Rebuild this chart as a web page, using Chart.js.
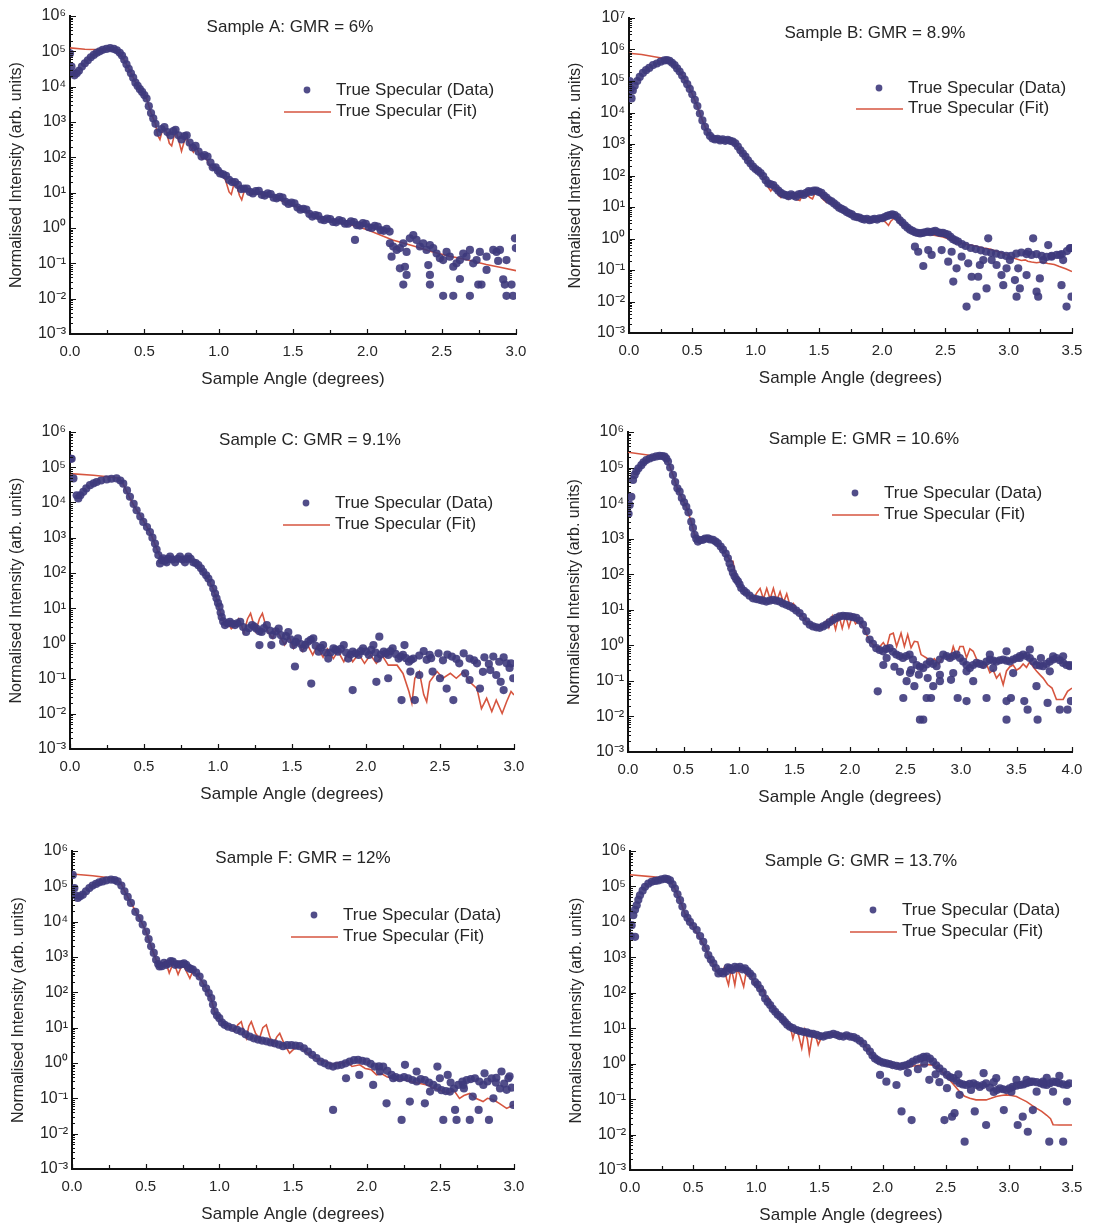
<!DOCTYPE html>
<html>
<head>
<meta charset="utf-8">
<title>True specular reflectivity, samples A-G</title>
<script src="https://cdn.jsdelivr.net/npm/chart.js@4.4.0/dist/chart.umd.min.js"></script>
<style>
  html, body { margin: 0; padding: 0; background: #fff; }
  body { width: 1094px; height: 1227px; position: relative; overflow: hidden; }
  canvas { position: absolute; }
</style>
</head>
<body>
<canvas id="cA"></canvas>
<canvas id="cB"></canvas>
<canvas id="cC"></canvas>
<canvas id="cE"></canvas>
<canvas id="cF"></canvas>
<canvas id="cG"></canvas>
<script>
// ---------- Sample A: GMR = 6% ----------
const titleA = 'Sample A: GMR = 6%';
const xTicksA = [0, 0.5, 1.0, 1.5, 2.0, 2.5, 3.0];
const decadesA = [-3, -2, -1, 0, 1, 2, 3, 4, 5, 6];
const dataA = [
  [0.00,8.7e4],[0.01,3.7e4],[0.02,2.4e4],[0.03,2.1e4],[0.045,2.4e4],[0.06,2.8e4],[0.08,3.7e4],[0.10,4.6e4],
  [0.12,5.6e4],[0.14,6.8e4],[0.16,7.9e4],[0.18,9.1e4],[0.20,1.0e5],[0.22,1.1e5],[0.245,1.17e5],[0.27,1.23e5],
  [0.295,1.17e5],[0.315,1.07e5],[0.335,9.1e4],[0.35,7.6e4],[0.365,5.8e4],[0.38,4.3e4],[0.395,3.2e4],[0.41,2.4e4],
  [0.425,1.8e4],[0.44,1.3e4],[0.455,1.05e4],[0.47,8.5e3],[0.485,7.1e3],[0.50,5.8e3],[0.515,4.6e3],[0.53,2.8e3],
  [0.545,1.8e3],[0.56,1.26e3],[0.575,8.9e2],[0.59,5.0e2],[0.615,6.3e2],[0.635,7.2e2],[0.655,5.2e2],[0.675,4.2e2],
  [0.695,5.5e2],[0.71,6.0e2],[0.73,4.2e2],[0.75,3.2e2],[0.77,4.0e2],[0.785,4.2e2],[0.805,2.6e2],[0.825,1.9e2],
  [0.845,2.1e2],[0.865,1.45e2],[0.885,1.05e2],[0.905,1.15e2],[0.925,1.05e2],[0.945,71],[0.96,52],[0.98,52],
  [0.995,42],[1.01,35],[1.03,33],[1.05,30],[1.07,23],[1.09,20],[1.11,20],[1.13,16.6],[1.15,12.6],[1.17,13],
  [1.19,13],[1.21,10.5],[1.23,9.5],[1.25,11],[1.27,11.2],[1.29,8.7],[1.31,8.3],[1.33,9.5],[1.35,9.1],[1.37,7.2],
  [1.39,6.9],[1.41,7.6],[1.43,7.2],[1.45,5.5],[1.47,4.8],[1.49,5.2],[1.51,5.0],[1.53,3.8],[1.55,3.3],[1.57,3.5],
  [1.59,3.3],[1.61,2.5],[1.63,2.1],[1.65,2.3],[1.67,2.2],[1.69,1.74],[1.71,1.66],[1.73,1.86],[1.75,1.78],[1.77,1.48],
  [1.79,1.45],[1.81,1.66],[1.83,1.58],[1.85,1.32],[1.87,1.32],[1.89,1.55],[1.91,1.48],[1.93,1.2],[1.95,1.17],[1.97,1.38],
  [1.99,1.32],[2.01,1.05],[2.03,1.0],[2.05,1.15],[2.07,1.1],[2.09,0.87],[2.11,0.83],[2.13,0.95],[2.15,0.79],
  [2.152,0.37],[2.174,0.30],[2.197,0.24],[2.219,0.27],[2.242,0.37],[2.264,0.21],[2.286,0.51],[2.309,0.63],[2.331,0.46],
  [2.354,0.30],[2.376,0.37],[2.398,0.24],[2.421,0.33],[2.443,0.27],[2.466,0.19],[2.488,0.14],[2.51,0.124],[2.533,0.21],
  [2.555,0.154],[2.578,0.08],[2.6,0.1],[2.623,0.124],[2.645,0.19],[2.667,0.154],[2.69,0.24],[2.712,0.1],[2.735,0.124],
  [2.757,0.21],[2.802,0.154],[2.847,0.24],[2.869,0.21],[2.892,0.24],[2.936,0.124],[2.993,0.51],[2.999,0.27],
  [2.163,0.154],[2.219,0.072],[2.253,0.08],[2.264,0.047],[2.242,0.025],[2.41,0.089],[2.421,0.047],[2.421,0.025],
  [2.51,0.012],[2.578,0.012],[2.623,0.036],[2.69,0.012],[2.746,0.025],[2.768,0.025],[2.802,0.065],[2.88,0.117],
  [2.914,0.035],[2.925,0.025],[2.936,0.012],[2.97,0.025],[2.98,0.012],[1.917,0.46]
];
const fitA = [
  [0,1.25e5],[0.1,1.15e5],[0.2,1.12e5],[0.27,1.15e5],[0.3,1.05e5],[0.335,8.5e4],[0.365,5.6e4],[0.395,3.2e4],
  [0.425,1.8e4],[0.455,1.05e4],[0.485,7.1e3],[0.515,4.6e3],[0.545,1.8e3],[0.575,8.9e2],[0.59,4.2e2],[0.605,3.2e2],
  [0.62,5.6e2],[0.635,6.9e2],[0.65,5.0e2],[0.668,2.5e2],[0.684,2.1e2],[0.70,4.0e2],[0.715,5.2e2],[0.733,2.8e2],
  [0.75,1.5e2],[0.768,2.8e2],[0.785,3.6e2],[0.81,2.0e2],[0.83,1.4e2],[0.85,1.9e2],[0.87,1.26e2],[0.89,89],
  [0.91,105],[0.93,71],[0.95,50],[0.97,52],[0.99,38],[1.01,32],[1.03,32],[1.05,20],[1.07,10.5],[1.085,8.9],
  [1.10,15.8],[1.12,16.6],[1.14,8.3],[1.155,6.3],[1.17,10.5],[1.19,12],[1.22,8.9],[1.25,10],[1.28,9.1],[1.32,8.3],
  [1.36,7.6],[1.40,6.6],[1.45,5.2],[1.5,4.4],[1.55,3.5],[1.6,2.75],[1.65,2.2],[1.7,1.8],[1.75,1.66],[1.8,1.5],
  [1.85,1.35],[1.93,1.1],[2.0,0.89],[2.17,0.46],[2.3,0.32],[2.44,0.21],[2.55,0.16],[2.67,0.126],[2.8,0.093],
  [2.9,0.076],[3.0,0.062]
];

// ---------- Sample B: GMR = 8.9% ----------
const titleB = 'Sample B: GMR = 8.9%';
const xTicksB = [0, 0.5, 1.0, 1.5, 2.0, 2.5, 3.0, 3.5];
const decadesB = [-3, -2, -1, 0, 1, 2, 3, 4, 5, 6, 7];
const dataB = [
  [0.005,1.0e5],[0.012,5.6e4],[0.02,2.8e4],[0.03,5.0e4],[0.045,7.1e4],[0.065,1.0e5],[0.085,1.35e5],[0.11,1.8e5],
  [0.135,2.2e5],[0.16,2.6e5],[0.19,3.2e5],[0.22,3.6e5],[0.25,4.1e5],[0.28,4.5e5],[0.30,4.6e5],[0.32,4.4e5],
  [0.34,3.8e5],[0.36,3.2e5],[0.38,2.5e5],[0.40,2.0e5],[0.42,1.5e5],[0.44,1.1e5],[0.46,7.9e4],[0.48,5.6e4],
  [0.50,3.8e4],[0.52,2.5e4],[0.54,1.6e4],[0.56,9.3e3],[0.58,5.6e3],[0.60,3.5e3],[0.62,2.4e3],[0.64,1.8e3],
  [0.66,1.5e3],[0.68,1.4e3],[0.70,1.45e3],[0.72,1.3e3],[0.74,1.4e3],[0.76,1.26e3],[0.78,1.35e3],[0.80,1.26e3],
  [0.82,1.2e3],[0.84,1.05e3],[0.86,8.3e2],[0.88,6.3e2],[0.90,5.0e2],[0.92,4.0e2],[0.94,3.0e2],[0.96,2.4e2],
  [0.98,1.9e2],[1.00,1.6e2],[1.02,1.4e2],[1.04,1.2e2],[1.06,95],[1.08,71],[1.10,56],[1.12,52],[1.14,50],[1.16,40],
  [1.18,33],[1.20,28],[1.22,25],[1.24,24],[1.26,22],[1.28,25],[1.30,23],[1.32,21],[1.34,25],[1.36,26],[1.38,24],
  [1.40,28],[1.42,32],[1.44,30],[1.46,33],[1.48,33],[1.50,30],[1.52,28],[1.54,23],[1.56,20],[1.58,16.6],[1.60,15],
  [1.62,13],[1.64,11.2],[1.66,9.5],[1.68,8.7],[1.70,7.9],[1.72,6.9],[1.74,6.3],[1.76,5.8],[1.78,5.0],[1.80,4.8],
  [1.82,4.6],[1.84,4.2],[1.86,4.0],[1.88,4.2],[1.90,3.8],[1.92,4.0],[1.94,4.2],[1.96,4.0],[1.98,4.4],[2.00,4.4],
  [2.02,4.8],[2.04,5.2],[2.06,5.5],[2.08,5.8],[2.10,5.5],[2.12,4.8],[2.14,3.8],[2.16,3.2],[2.18,2.6],[2.20,2.2],
  [2.22,1.9],[2.24,1.74],[2.26,1.58],[2.28,1.5],[2.30,1.45],[2.32,1.5],[2.34,1.58],[2.36,1.66],[2.38,1.58],[2.40,1.66],
  [2.42,1.74],[2.44,1.58],[2.46,1.5],[2.48,1.5],[2.50,1.41],[2.52,1.32],[2.54,1.12],[2.56,0.95],[2.58,0.87],[2.60,0.79],
  [2.63,0.66],[2.66,0.58],[2.70,0.5],[2.74,0.46],[2.78,0.42],[2.82,0.38],[2.86,0.35],[2.90,0.33],[2.94,0.3],[2.98,0.28],
  [3.02,0.28],[3.06,0.33],[3.10,0.36],[3.14,0.32],[3.18,0.3],[3.22,0.32],[3.26,0.28],[3.30,0.26],[3.34,0.28],[3.38,0.3],
  [3.42,0.32],[3.46,0.4],[3.49,0.5],
  [2.259,0.55],[2.285,0.38],[2.325,0.134],[2.364,0.43],[2.391,0.3],[2.47,0.43],[2.522,0.184],[2.549,0.38],[2.562,0.043],
  [2.588,0.113],[2.628,0.265],[2.667,0.0069],[2.68,0.163],[2.707,0.061],[2.746,0.0142],[2.759,0.061],[2.772,0.144],
  [2.799,0.207],[2.825,0.026],[2.838,1.01],[2.865,0.207],[2.904,0.144],[2.943,0.069],[2.957,0.033],[2.983,0.113],
  [3.009,0.207],[3.049,0.048],[3.062,0.0142],[3.075,0.113],[3.088,0.026],[3.141,0.069],[3.154,0.38],[3.193,1.01],
  [3.22,0.0205],[3.233,0.0142],[3.246,0.054],[3.273,0.207],[3.312,0.62],[3.338,0.265],[3.417,0.033],[3.43,0.207],
  [3.457,0.0069],[3.496,0.0142],[3.483,0.49],[3.404,0.3]
];
const fitB = [
  [0,7.6e5],[0.1,6.9e5],[0.2,5.9e5],[0.28,5.2e5],[0.31,4.6e5],[0.34,3.8e5],[0.38,2.5e5],[0.42,1.5e5],[0.46,7.9e4],
  [0.50,3.8e4],[0.54,1.6e4],[0.58,5.6e3],[0.62,2.4e3],[0.66,1.5e3],[0.70,1.4e3],[0.74,1.3e3],[0.78,1.3e3],[0.82,1.15e3],
  [0.86,8.0e2],[0.90,4.8e2],[0.94,2.8e2],[0.98,1.8e2],[1.00,1.3e2],[1.02,1.5e2],[1.04,1.2e2],[1.06,80],[1.08,71],
  [1.10,42],[1.12,32],[1.14,44],[1.16,38],[1.18,24],[1.20,20],[1.22,26],[1.24,25],[1.26,18],[1.28,23],[1.30,23],
  [1.33,17],[1.35,16],[1.37,24],[1.40,26],[1.43,20],[1.45,18],[1.47,28],[1.50,28],[1.53,18],[1.56,14],[1.58,18],
  [1.61,14],[1.64,10],[1.67,9.5],[1.70,7.6],[1.75,5.8],[1.80,4.6],[1.85,4.0],[1.90,3.8],[1.95,4.0],[2.00,4.2],
  [2.03,3.2],[2.05,2.6],[2.07,3.6],[2.10,4.6],[2.13,3.2],[2.16,2.5],[2.20,2.0],[2.26,1.5],[2.32,1.4],[2.40,1.3],
  [2.48,1.12],[2.55,0.89],[2.60,0.79],[2.64,0.68],[2.68,0.63],[2.72,0.6],[2.75,0.56],[2.80,0.5],[2.85,0.46],[2.88,0.42],
  [2.92,0.38],[2.97,0.32],[3.00,0.28],[3.05,0.23],[3.10,0.2],[3.13,0.21],[3.15,0.19],[3.18,0.18],[3.22,0.17],
  [3.26,0.18],[3.31,0.16],[3.36,0.15],[3.40,0.13],[3.45,0.11],[3.50,0.089]
];

// ---------- Sample C: GMR = 9.1% ----------
const titleC = 'Sample C: GMR = 9.1%';
const xTicksC = [0, 0.5, 1.0, 1.5, 2.0, 2.5, 3.0];
const decadesC = [-3, -2, -1, 0, 1, 2, 3, 4, 5, 6];
const dataC = [
  [0.005,1.74e5],[0.011,1.74e5],[0.023,4.8e4],[0.045,1.6e4],[0.056,1.3e4],[0.07,1.6e4],[0.09,2.0e4],[0.11,2.5e4],
  [0.135,3.1e4],[0.16,3.5e4],[0.18,3.8e4],[0.21,4.2e4],[0.248,4.5e4],[0.28,4.7e4],[0.315,4.8e4],[0.34,4.2e4],
  [0.36,3.4e4],[0.385,2.2e4],[0.405,1.45e4],[0.43,9.1e3],[0.45,6.0e3],[0.475,4.0e3],[0.495,2.8e3],[0.52,2.0e3],
  [0.54,1.45e3],[0.557,1.0e3],[0.574,6.8e2],[0.585,4.6e2],[0.597,3.2e2],[0.608,1.86e2],[0.62,2.3e2],[0.63,2.6e2],
  [0.642,2.2e2],[0.653,2.0e2],[0.665,2.5e2],[0.676,2.9e2],[0.693,2.4e2],[0.71,2.0e2],[0.727,2.5e2],[0.743,2.9e2],
  [0.76,2.4e2],[0.777,2.0e2],[0.79,2.5e2],[0.80,2.9e2],[0.815,2.5e2],[0.833,2.0e2],[0.85,1.9e2],[0.867,1.66e2],
  [0.885,1.35e2],[0.90,1.07e2],[0.92,85],[0.935,69],[0.952,52],[0.968,36],[0.98,26],[0.99,19],[1.0,14],[1.01,11],
  [1.018,7.5],[1.025,5.6],[1.035,4.2],[1.047,3.3],[1.065,3.7],[1.08,4.1],[1.098,3.6],[1.115,3.3],[1.13,3.7],[1.15,4.1],
  [1.17,2.9],[1.19,2.1],[1.21,2.7],[1.23,3.3],[1.245,3.0],[1.26,2.6],[1.28,2.2],[1.295,2.1],[1.31,2.7],[1.33,3.3],
  [1.35,2.3],[1.37,1.7],[1.39,2.2],[1.41,2.6],[1.425,1.7],[1.44,1.12],[1.46,1.6],[1.475,2.1],[1.49,1.3],[1.51,0.89],
  [1.525,1.1],[1.54,1.38],[1.56,0.95],[1.576,0.72],[1.59,0.9],[1.61,1.12],[1.627,1.26],[1.644,1.38],[1.66,0.85],
  [1.68,0.58],[1.695,0.75],[1.71,0.89],[1.73,0.55],[1.745,0.37],[1.76,0.55],[1.78,0.72],[1.795,0.66],[1.81,0.58],
  [1.83,0.7],[1.85,0.89],[1.865,0.55],[1.88,0.37],[1.895,0.48],[1.91,0.58],[1.93,0.52],[1.95,0.47],[1.965,0.6],
  [1.98,0.72],[2.0,0.58],[2.02,0.47],[2.035,0.65],[2.05,0.89],[2.065,0.55],[2.08,0.37],[2.1,0.48],[2.12,0.58],
  [2.135,0.52],[2.15,0.47],[2.165,0.6],[2.18,0.72],[2.2,0.5],[2.22,0.37],[2.235,0.42],[2.25,0.47],[2.27,0.38],
  [2.29,0.3],[2.305,0.34],[2.32,0.37],
  [2.36,0.45],[2.39,0.6],[2.44,0.38],[2.52,0.33],[2.55,0.48],[2.61,0.36],[2.66,0.52],[2.73,0.33],[2.8,0.4],
  [2.83,0.26],[2.9,0.3],[2.93,0.4],[2.97,0.2],
  [2.09,1.55],[2.26,0.89],[2.41,0.34],[2.43,0.47],[2.49,0.52],[2.58,0.42],[2.63,0.27],[2.70,0.37],[2.75,0.27],
  [2.79,0.155],[2.86,0.42],[2.88,0.126],[2.95,0.27],[2.98,0.27],[2.995,0.102],[2.84,0.174],[2.67,0.141],[2.545,0.052],
  [2.59,0.0245],[2.24,0.0245],[2.33,0.0245],[2.07,0.081],[1.91,0.047],[1.63,0.072],[1.52,0.22],[1.28,0.89],[1.36,0.89],
  [2.93,0.047],[2.7,0.091],[2.5,0.102],[2.36,0.126],[2.45,0.158],[2.77,0.052],[2.91,0.081],[2.15,0.102],[2.3,0.158]
];
const fitC = [
  [0,6.6e4],[0.158,5.9e4],[0.315,5.0e4],[0.35,4.0e4],[0.405,1.3e4],[0.44,7.0e3],[0.473,4.4e3],[0.51,2.4e3],
  [0.55,1.2e3],[0.58,5.5e2],[0.608,2.9e2],[0.63,2.3e2],[0.655,2.6e2],[0.68,2.2e2],[0.705,2.6e2],[0.73,2.2e2],
  [0.755,2.6e2],[0.78,2.2e2],[0.805,2.5e2],[0.83,2.1e2],[0.86,1.7e2],[0.9,1.0e2],[0.935,65],[0.968,35],[0.99,18],
  [1.01,9],[1.03,5.0],[1.05,3.2],[1.07,3.6],[1.09,2.6],[1.115,3.2],[1.14,5.0],[1.16,3.2],[1.175,2.0],[1.2,5.0],
  [1.22,7.1],[1.24,3.6],[1.255,2.2],[1.28,5.0],[1.3,7.1],[1.32,3.5],[1.34,2.0],[1.37,1.38],[1.39,2.6],[1.42,1.6],
  [1.45,0.9],[1.48,1.6],[1.51,0.72],[1.54,1.2],[1.57,0.6],[1.6,1.0],[1.64,0.47],[1.67,0.85],[1.71,0.4],[1.74,0.7],
  [1.78,0.37],[1.81,0.6],[1.85,0.3],[1.88,0.55],[1.91,0.3],[1.95,0.5],[1.99,0.27],[2.03,0.47],[2.07,0.27],[2.11,0.45],
  [2.15,0.24],[2.18,0.24],[2.21,0.24],[2.25,0.14],[2.29,0.043],[2.31,0.02],[2.33,0.102],[2.36,0.158],[2.39,0.035],
  [2.41,0.022],[2.43,0.081],[2.48,0.158],[2.52,0.102],[2.57,0.141],[2.61,0.102],[2.66,0.158],[2.7,0.081],[2.75,0.052],
  [2.78,0.014],[2.815,0.0275],[2.85,0.0115],[2.88,0.0245],[2.92,0.0102],[2.95,0.022],[2.98,0.043],[3.0,0.034]
];

// ---------- Sample E: GMR = 10.6% ----------
const titleE = 'Sample E: GMR = 10.6%';
const xTicksE = [0, 0.5, 1.0, 1.5, 2.0, 2.5, 3.0, 3.5, 4.0];
const decadesE = [-3, -2, -1, 0, 1, 2, 3, 4, 5, 6];
const dataE = [
  [0.005,5.0e3],[0.015,8.9e3],[0.03,1.5e4],[0.045,4.5e4],[0.06,6.2e4],[0.075,7.8e4],[0.095,9.5e4],[0.12,1.17e5],
  [0.14,1.4e5],[0.165,1.62e5],[0.195,1.8e5],[0.225,1.95e5],[0.255,2.05e5],[0.285,2.14e5],[0.31,2.1e5],[0.33,2.04e5],
  [0.345,1.8e5],[0.36,1.48e5],[0.38,1.0e5],[0.405,6.2e4],[0.425,3.9e4],[0.445,2.6e4],[0.465,2.1e4],[0.485,1.4e4],
  [0.505,1.05e4],[0.525,7.9e3],[0.545,5.5e3],[0.57,3.0e3],[0.585,2.0e3],[0.60,1.29e3],[0.615,1.0e3],[0.63,8.3e2],
  [0.65,9.1e2],[0.675,9.3e2],[0.695,1.0e3],[0.72,1.02e3],[0.74,9.5e2],[0.766,9.3e2],[0.79,8.3e2],[0.81,7.4e2],
  [0.835,6.0e2],[0.856,4.9e2],[0.88,3.8e2],[0.9,2.8e2],[0.915,2.0e2],[0.93,1.48e2],[0.945,1.1e2],[0.96,87],
  [0.975,72],[0.99,63],[1.005,52],[1.02,41],[1.045,34],[1.066,30],[1.095,25],[1.126,21],[1.156,20],[1.186,19],
  [1.215,18],[1.246,17],[1.276,18],[1.306,19],[1.336,18],[1.366,17],[1.396,15],[1.426,13.8],[1.456,12.6],[1.486,11.2],
  [1.516,9.5],[1.546,8.1],[1.576,6.3],[1.607,4.7],[1.637,3.8],[1.667,3.4],[1.697,3.2],[1.727,3.1],[1.757,3.4],
  [1.787,3.8],[1.817,4.5],[1.847,5.2],[1.877,5.9],[1.907,6.5],[1.937,6.8],[1.967,6.6],[1.997,6.5],[2.027,6.2],
  [2.057,5.9],[2.087,5.0],[2.117,3.8],[2.147,2.5],[2.177,1.45],[2.207,1.1],[2.237,0.83],[2.267,0.74],[2.297,0.68],
  [2.327,0.79],[2.357,0.83],[2.387,0.66],[2.417,0.55],[2.447,0.5],[2.477,0.44],[2.507,0.5],[2.537,0.55],[2.567,0.4],
  [2.6,0.28],[2.63,0.25],[2.66,0.23],[2.69,0.29],[2.72,0.35],[2.75,0.3],[2.78,0.26],[2.81,0.4],[2.84,0.55],[2.87,0.5],
  [2.9,0.44],[2.93,0.5],[2.96,0.55],[2.99,0.44],[3.02,0.35],[3.05,0.28],[3.08,0.23],[3.11,0.28],[3.14,0.32],[3.17,0.3],
  [3.2,0.28],[3.23,0.35],[3.26,0.4],[3.29,0.37],[3.32,0.35],[3.35,0.38],[3.38,0.4],[3.41,0.37],[3.44,0.35],[3.47,0.4],
  [3.5,0.44],[3.53,0.5],[3.56,0.55],[3.59,0.5],[3.62,0.44],[3.65,0.35],[3.68,0.28],[3.71,0.27],[3.74,0.26],[3.77,0.3],
  [3.8,0.35],[3.83,0.4],[3.86,0.44],[3.89,0.38],[3.92,0.32],[3.95,0.28],[3.98,0.26],
  [2.25,0.051],[2.3,0.28],[2.33,0.44],[2.51,0.098],[2.58,0.071],[2.48,0.033],[2.63,0.0081],[2.66,0.0081],[2.69,0.033],
  [2.73,0.033],[2.75,0.071],[2.81,0.098],[2.91,0.107],[2.97,0.033],[3.05,0.027],[3.11,0.098],[3.23,0.033],[3.41,0.68],
  [3.41,0.027],[3.45,0.033],[3.41,0.0081],[3.57,0.027],[3.6,0.0155],[3.62,0.76],[3.68,0.071],[3.69,0.0081],[3.72,0.44],
  [3.78,0.024],[3.83,0.49],[3.89,0.0155],[3.92,0.49],[3.96,0.0155],[3.99,0.027],[3.98,0.28],[3.05,0.186],[2.93,0.166],
  [2.81,0.148],[2.54,0.166],[3.29,0.229],[3.47,0.166],[3.8,0.186],[3.26,0.55],[3.53,0.44],[2.4,0.25],[2.45,0.18],
  [2.55,0.2],[2.62,0.15],[2.7,0.12]
];
const fitE = [
  [0,2.7e5],[0.225,2.14e5],[0.33,2.04e5],[0.36,1.48e5],[0.405,6.2e4],[0.445,2.6e4],[0.485,1.4e4],[0.525,7.9e3],
  [0.57,3.0e3],[0.6,1.29e3],[0.63,8.7e2],[0.675,9.3e2],[0.72,1.0e3],[0.766,9.1e2],[0.81,7.2e2],[0.856,4.9e2],
  [0.9,3.0e2],[0.93,2.3e2],[0.946,2.3e2],[0.96,1.2e2],[0.98,70],[1.0,60],[1.02,45],[1.04,35],[1.07,28],[1.1,24],
  [1.13,20],[1.16,30],[1.19,40],[1.22,20],[1.25,40],[1.28,20],[1.31,40],[1.34,18],[1.37,32],[1.4,16],[1.43,28],
  [1.46,13],[1.49,15],[1.52,10],[1.55,8],[1.58,6],[1.61,4.5],[1.64,3.6],[1.67,3.3],[1.7,3.2],[1.73,3.4],[1.76,3.6],
  [1.79,5.0],[1.81,3.2],[1.84,6.5],[1.87,2.8],[1.9,7.0],[1.93,3.0],[1.96,7.0],[1.99,3.2],[2.02,6.6],[2.05,4.0],
  [2.08,5.0],[2.12,3.2],[2.15,2.0],[2.18,1.3],[2.22,0.95],[2.26,0.85],[2.3,1.2],[2.33,0.85],[2.36,2.0],[2.39,2.2],
  [2.42,0.93],[2.46,2.2],[2.49,0.93],[2.52,2.0],[2.55,0.85],[2.58,1.3],[2.61,1.25],[2.64,0.55],[2.69,0.44],[2.73,0.35],
  [2.76,0.42],[2.8,0.3],[2.84,0.5],[2.87,0.55],[2.9,0.4],[2.93,0.93],[2.96,0.5],[2.99,0.93],[3.02,0.93],[3.05,0.45],
  [3.08,0.8],[3.11,0.68],[3.15,0.35],[3.2,0.23],[3.23,0.3],[3.26,0.17],[3.29,0.2],[3.32,0.12],[3.35,0.16],[3.38,0.078],
  [3.41,0.19],[3.44,0.25],[3.47,0.28],[3.5,0.2],[3.53,0.23],[3.56,0.3],[3.59,0.24],[3.62,0.35],[3.65,0.25],[3.68,0.19],
  [3.71,0.15],[3.74,0.12],[3.78,0.079],[3.82,0.063],[3.86,0.03],[3.9,0.03],[3.92,0.03],[3.96,0.051],[4.0,0.063]
];

// ---------- Sample F: GMR = 12% ----------
const titleF = 'Sample F: GMR = 12%';
const xTicksF = [0, 0.5, 1.0, 1.5, 2.0, 2.5, 3.0];
const decadesF = [-3, -2, -1, 0, 1, 2, 3, 4, 5, 6];
const dataF = [
  [0.005,2.1e5],[0.016,8.9e4],[0.028,5.5e4],[0.039,4.7e4],[0.055,5.2e4],[0.073,5.8e4],[0.095,7.2e4],[0.118,8.9e4],
  [0.14,1.05e5],[0.163,1.17e5],[0.185,1.3e5],[0.208,1.38e5],[0.235,1.48e5],[0.265,1.55e5],[0.29,1.5e5],[0.31,1.38e5],
  [0.335,1.05e5],[0.356,7.2e4],[0.378,5.0e4],[0.4,3.4e4],[0.43,1.9e4],[0.458,1.26e4],[0.48,8.3e3],[0.503,5.2e3],
  [0.52,3.2e3],[0.537,2.0e3],[0.555,1.3e3],[0.571,8.3e2],[0.585,6.3e2],[0.594,5.4e2],[0.61,5.5e2],[0.625,6.8e2],
  [0.639,6.0e2],[0.655,6.5e2],[0.67,7.6e2],[0.684,7.4e2],[0.7,6.0e2],[0.715,6.3e2],[0.73,6.0e2],[0.745,6.3e2],
  [0.76,6.6e2],[0.775,6.0e2],[0.79,5.0e2],[0.805,4.6e2],[0.82,4.4e2],[0.843,3.6e2],[0.866,2.8e2],[0.89,1.8e2],
  [0.91,1.3e2],[0.928,95],[0.945,69],[0.957,45],[0.968,29],[0.984,22],[1.0,18.6],[1.018,14],[1.036,12],[1.06,10.7],
  [1.09,9.8],[1.12,8.7],[1.149,7.8],[1.178,6.5],[1.206,5.6],[1.234,5.0],[1.262,4.6],[1.29,4.3],[1.319,4.1],[1.347,3.8],
  [1.375,3.6],[1.404,3.3],[1.432,3.0],[1.46,3.2],[1.489,3.2],[1.517,3.1],[1.545,3.0],[1.574,2.6],[1.602,2.1],[1.63,1.7],
  [1.659,1.38],[1.687,1.1],[1.715,0.98],[1.743,0.85],[1.772,0.79],[1.8,0.85],[1.829,0.89],[1.857,0.98],[1.885,1.1],
  [1.914,1.2],[1.942,1.23],[1.97,1.15],[1.999,1.1],[2.027,0.95],[2.055,0.79],[2.084,0.8],[2.112,0.79],[2.14,0.6],
  [2.169,0.46],[2.197,0.4],[2.225,0.37],[2.254,0.4],[2.282,0.37],[2.31,0.33],[2.339,0.3],[2.367,0.35],[2.395,0.33],
  [2.423,0.28],[2.452,0.24],[2.48,0.2],[2.508,0.17],[2.537,0.16],[2.565,0.155],[2.593,0.19],[2.622,0.24],[2.65,0.3],
  [2.679,0.33],[2.707,0.35],[2.735,0.37],[2.764,0.3],[2.792,0.24],[2.82,0.3],[2.848,0.37],[2.877,0.28],[2.905,0.19],
  [2.933,0.26],[2.962,0.37],[2.985,0.2],[2.996,0.065],
  [1.772,0.047],[2.044,0.24],[2.135,0.072],[2.237,0.0245],[2.293,0.081],[2.395,0.072],[2.339,0.575],[2.48,0.79],
  [2.497,0.37],[2.6,0.047],[2.52,0.0245],[2.61,0.0245],[2.7,0.0245],[2.76,0.047],[2.83,0.0245],[2.80,0.51],[2.915,0.575],
  [2.97,0.42],[2.95,0.174],[2.656,0.24],[2.55,0.46],[2.18,0.37],[1.95,0.46],[1.86,0.37],[2.09,0.575],[2.26,0.89],
  [2.43,0.155],[2.72,0.112],[2.86,0.1],[2.57,0.28],[2.66,0.19],[2.88,0.38]
];
const fitF = [
  [0,2.24e5],[0.14,2.0e5],[0.254,1.74e5],[0.31,1.55e5],[0.335,1.15e5],[0.356,7.5e4],[0.4,3.4e4],[0.458,1.26e4],
  [0.503,5.2e3],[0.537,2.0e3],[0.571,8.3e2],[0.594,5.2e2],[0.615,6.5e2],[0.635,7.6e2],[0.66,3.5e2],[0.69,7.2e2],
  [0.72,3.2e2],[0.75,6.5e2],[0.8,2.5e2],[0.82,4.0e2],[0.866,2.6e2],[0.91,1.3e2],[0.945,65],[0.968,28],[1.0,18],
  [1.036,12],[1.07,11],[1.1,8.0],[1.125,12],[1.149,14.8],[1.166,8],[1.183,5.0],[1.2,11],[1.217,14.8],[1.245,7],
  [1.273,5.0],[1.295,10],[1.319,12],[1.34,6],[1.364,3.2],[1.39,5.5],[1.41,6.9],[1.44,3.5],[1.477,1.9],[1.51,2.6],
  [1.545,2.9],[1.58,2.2],[1.613,1.7],[1.65,1.4],[1.69,1.15],[1.727,1.1],[1.76,0.9],[1.8,1.0],[1.84,0.98],[1.87,1.1],
  [1.9,0.8],[1.953,0.89],[1.99,0.7],[2.03,0.65],[2.067,0.46],[2.1,0.5],[2.14,0.4],[2.18,0.37],[2.22,0.33],[2.25,0.35],
  [2.293,0.3],[2.33,0.28],[2.37,0.26],[2.41,0.24],[2.45,0.2],[2.48,0.18],[2.52,0.155],[2.56,0.14],[2.59,0.174],
  [2.63,0.1],[2.66,0.12],[2.7,0.138],[2.74,0.1],[2.79,0.081],[2.82,0.1],[2.86,0.091],[2.9,0.072],[2.95,0.052],
  [2.98,0.06],[3.0,0.065]
];

// ---------- Sample G: GMR = 13.7% ----------
const titleG = 'Sample G: GMR = 13.7%';
const xTicksG = [0, 0.5, 1.0, 1.5, 2.0, 2.5, 3.0, 3.5];
const decadesG = [-3, -2, -1, 0, 1, 2, 3, 4, 5, 6];
const dataG = [
  [0.005,4.0e3],[0.013,8.1e3],[0.026,1.55e4],[0.04,2.2e4],[0.053,2.95e4],[0.066,4.2e4],[0.079,5.6e4],[0.1,7.6e4],
  [0.119,9.8e4],[0.145,1.2e5],[0.172,1.35e5],[0.2,1.43e5],[0.224,1.48e5],[0.25,1.58e5],[0.277,1.66e5],[0.297,1.6e5],
  [0.317,1.48e5],[0.337,1.15e5],[0.356,8.7e4],[0.376,6.0e4],[0.396,4.1e4],[0.415,2.7e4],[0.435,1.7e4],[0.455,1.3e4],
  [0.475,1.0e4],[0.5,7.6e3],[0.528,5.9e3],[0.555,4.0e3],[0.58,2.75e3],[0.6,1.8e3],[0.62,1.15e3],[0.64,8.7e2],
  [0.66,6.8e2],[0.68,5.0e2],[0.70,3.5e2],[0.72,3.9e2],[0.739,3.5e2],[0.76,4.0e2],[0.775,5.2e2],[0.79,4.9e2],
  [0.81,4.4e2],[0.83,5.4e2],[0.85,5.0e2],[0.87,5.4e2],[0.89,4.6e2],[0.91,4.9e2],[0.93,4.1e2],[0.95,3.5e2],[0.97,2.9e2],
  [0.99,2.0e2],[1.01,1.7e2],[1.03,1.32e2],[1.05,1.0e2],[1.07,69],[1.09,55],[1.11,45],[1.13,35],[1.15,29],[1.17,24],
  [1.19,21],[1.21,17.4],[1.227,15],[1.245,12.6],[1.266,11],[1.29,10],[1.32,8.9],[1.345,8.3],[1.372,7.9],[1.4,7.6],
  [1.425,7.1],[1.45,6.9],[1.478,6.5],[1.505,6.0],[1.53,5.8],[1.555,6.3],[1.583,6.5],[1.61,6.9],[1.636,6.5],[1.66,6.0],
  [1.689,5.8],[1.715,6.3],[1.741,5.8],[1.77,5.6],[1.794,5.1],[1.82,4.4],[1.847,3.7],[1.875,2.8],[1.9,2.2],[1.92,1.7],
  [1.94,1.41],[1.96,1.26],[1.98,1.15],[2.005,1.07],[2.03,1.02],[2.055,0.98],[2.08,0.91],[2.11,0.87],[2.14,0.83],
  [2.165,0.87],[2.19,0.91],[2.215,1.0],[2.24,1.15],[2.27,1.3],[2.3,1.41],[2.325,1.55],[2.35,1.58],[2.375,1.38],
  [2.4,1.15],[2.425,0.9],[2.45,0.74],[2.48,0.6],[2.51,0.48],[2.535,0.42],[2.56,0.39],[2.585,0.33],[2.61,0.28],
  [2.635,0.26],[2.66,0.25],[2.69,0.27],[2.72,0.28],[2.745,0.25],[2.77,0.22],[2.795,0.25],[2.82,0.28],[2.85,0.21],
  [2.88,0.16],[2.905,0.18],[2.93,0.2],[2.955,0.19],[2.98,0.18],[3.005,0.2],[3.03,0.22],[3.06,0.24],[3.09,0.25],
  [3.115,0.26],[3.14,0.28],[3.165,0.3],[3.19,0.31],[3.22,0.3],[3.25,0.28],[3.275,0.26],[3.3,0.25],[3.325,0.28],
  [3.35,0.31],[3.375,0.3],[3.4,0.28],[3.43,0.26],[3.46,0.25],[3.48,0.28],
  [0.04,3.8e3],[2.15,0.045],[2.23,0.0257],[2.49,0.0257],[2.55,0.032],[2.57,0.04],[2.65,0.0063],[2.73,0.045],
  [2.82,0.0186],[2.96,0.049],[3.07,0.0186],[3.15,0.012],[3.11,0.032],[3.19,0.049],[3.32,0.0063],[3.43,0.0063],
  [3.46,0.085],[2.8,0.54],[2.9,0.39],[3.17,0.31],[3.27,0.31],[3.35,0.162],[3.02,0.162],[2.51,0.204],[2.61,0.132],
  [2.7,0.182],[2.37,0.35],[2.03,0.31],[2.11,0.25],[1.98,0.48],[3.14,0.35],[3.22,0.162],[2.2,0.55],[2.28,0.7],
  [2.42,0.5],[2.33,1.0],[2.45,0.3],[2.6,0.5],[2.88,0.3],[3.06,0.35],[3.3,0.4],[3.4,0.45]
];
const fitG = [
  [0,2.14e5],[0.185,1.86e5],[0.29,1.66e5],[0.317,1.48e5],[0.356,8.7e4],[0.396,4.1e4],[0.435,1.7e4],[0.475,1.0e4],
  [0.49,8.9e3],[0.51,6.0e3],[0.54,4.2e3],[0.57,2.7e3],[0.6,1.8e3],[0.63,9.3e2],[0.66,6.2e2],[0.69,3.8e2],[0.72,3.0e2],
  [0.745,5.0e2],[0.765,2.5e2],[0.78,1.66e2],[0.8,4.5e2],[0.815,3.0e2],[0.83,1.66e2],[0.85,4.8e2],[0.87,3.2e2],
  [0.9,1.48e2],[0.92,3.8e2],[0.95,3.2e2],[0.97,2.4e2],[0.99,1.6e2],[1.01,1.8e2],[1.035,1.15e2],[1.055,1.3e2],
  [1.08,65],[1.1,70],[1.12,45],[1.14,38],[1.16,27],[1.19,22],[1.21,16],[1.24,13],[1.27,11],[1.29,5.1],[1.31,9.5],
  [1.335,6.3],[1.36,2.7],[1.385,8.9],[1.405,4.8],[1.42,1.95],[1.445,6.6],[1.47,6.0],[1.49,3.4],[1.52,6.0],[1.56,6.2],
  [1.6,6.6],[1.64,6.3],[1.68,6.0],[1.72,6.0],[1.76,5.6],[1.8,5.0],[1.85,3.6],[1.9,2.1],[1.93,1.41],[1.98,1.1],
  [2.05,0.9],[2.1,0.8],[2.16,0.74],[2.23,0.85],[2.3,0.91],[2.35,0.95],[2.4,0.91],[2.45,0.7],[2.49,0.5],[2.53,0.35],
  [2.57,0.24],[2.61,0.162],[2.65,0.12],[2.69,0.105],[2.74,0.095],[2.78,0.095],[2.82,0.095],[2.86,0.105],[2.9,0.118],
  [2.94,0.126],[2.98,0.132],[3.02,0.126],[3.06,0.118],[3.1,0.1],[3.14,0.085],[3.18,0.068],[3.22,0.055],[3.26,0.045],
  [3.3,0.035],[3.33,0.028],[3.35,0.019],[3.4,0.0186],[3.45,0.0186],[3.5,0.0186]
];

// ---------- styling ----------
const FONT = '"Liberation Sans", Arial, Helvetica, sans-serif';
const TEXT = '#262626';
const DATA_COLOR = 'rgba(62,58,124,0.9)';
const FIT_COLOR = '#d6553f';
const AXIS_COLOR = '#111';
const DOT_R = 4.1;
const SUP = { '-': '\u207B', '0': '\u2070', '1': '\u00B9', '2': '\u00B2', '3': '\u00B3', '4': '\u2074',
              '5': '\u2075', '6': '\u2076', '7': '\u2077', '8': '\u2078', '9': '\u2079' };
const powerLabel = e => '10' + String(e).split('').map(c => SUP[c]).join('');

// Tick marks pointing into the plot: quarter-degree marks on x, 1..9 per decade on y.
const inwardTicks = {
  id: 'inwardTicks',
  afterDraw(chart, args, opts) {
    const { ctx, chartArea: a, scales: { x, y } } = chart;
    ctx.save();
    ctx.strokeStyle = AXIS_COLOR;
    ctx.lineWidth = 1.2;
    ctx.beginPath();
    const xt = opts.xTicks;
    for (let i = 0; i < xt.length; i++) {
      const px = Math.round(x.getPixelForValue(xt[i])) + 0.5;
      ctx.moveTo(px, a.bottom); ctx.lineTo(px, a.bottom - 5);
      if (i < xt.length - 1) {
        const mx = Math.round(x.getPixelForValue((xt[i] + xt[i + 1]) / 2)) + 0.5;
        ctx.moveTo(mx, a.bottom); ctx.lineTo(mx, a.bottom - 4);
      }
    }
    const dec = opts.decades;
    for (let i = 0; i < dec.length; i++) {
      const base = Math.pow(10, dec[i]);
      const py = Math.round(y.getPixelForValue(base)) + 0.5;
      ctx.moveTo(a.left, py); ctx.lineTo(a.left + 6, py);
      if (i < dec.length - 1) {
        for (let m = 2; m <= 9; m++) {
          const my = Math.round(y.getPixelForValue(m * base)) + 0.5;
          ctx.moveTo(a.left, my); ctx.lineTo(a.left + 3, my);
        }
      }
    }
    ctx.stroke();
    ctx.restore();
  }
};

// Panel title and the two-entry key inside the plot area.
const panelText = {
  id: 'panelText',
  afterDraw(chart, args, o) {
    const { ctx, chartArea: a } = chart;
    const ds = chart.data.datasets;
    ctx.save();
    ctx.fillStyle = TEXT;
    ctx.font = '17px ' + FONT;
    ctx.textBaseline = 'middle';
    ctx.textAlign = 'center';
    ctx.fillText(o.title, a.left + o.titleAt[0], a.top + o.titleAt[1]);
    ctx.textAlign = 'left';
    const tx = a.left + o.keyAt[0], ty = a.top + o.keyAt[1];
    ctx.fillText(ds[0].label, tx, ty);
    ctx.fillText(ds[1].label, tx, ty + o.rowGap);
    ctx.fillStyle = DATA_COLOR;
    ctx.beginPath();
    ctx.arc(tx - 29, ty, 3.4, 0, Math.PI * 2);
    ctx.fill();
    ctx.strokeStyle = FIT_COLOR;
    ctx.lineWidth = 1.6;
    ctx.beginPath();
    ctx.moveTo(tx - 52, ty + o.rowGap + 1);
    ctx.lineTo(tx - 5, ty + o.rowGap + 1);
    ctx.stroke();
    ctx.restore();
  }
};

const PAD_LEFT = 70, PAD_TOP = 16, PAD_RIGHT = 22, PAD_BOTTOM = 60;

function makePanel(id, p) {
  const [l, t, r, b] = p.plot;
  const canvas = document.getElementById(id);
  canvas.width = r - l + PAD_LEFT + PAD_RIGHT;
  canvas.height = b - t + PAD_TOP + PAD_BOTTOM;
  canvas.style.left = (l - PAD_LEFT) + 'px';
  canvas.style.top = (t - PAD_TOP) + 'px';
  const xt = p.xTicks, dec = p.decades;
  return new Chart(canvas, {
    type: 'scatter',
    data: {
      datasets: [
        { label: 'True Specular (Data)', data: p.data, showLine: false,
          pointRadius: DOT_R, pointHoverRadius: DOT_R, pointBorderWidth: 0,
          pointBackgroundColor: DATA_COLOR, backgroundColor: DATA_COLOR },
        { label: 'True Specular (Fit)', data: p.fit, showLine: true, tension: 0,
          borderColor: FIT_COLOR, borderWidth: 1.6, pointRadius: 0, pointHoverRadius: 0, fill: false }
      ]
    },
    options: {
      responsive: false,
      animation: false,
      events: [],
      layout: { padding: { left: 0, top: PAD_TOP, right: PAD_RIGHT, bottom: 0 } },
      plugins: {
        legend: { display: false },
        tooltip: { enabled: false },
        inwardTicks: { xTicks: xt, decades: dec },
        panelText: { title: p.title, titleAt: p.titleAt, keyAt: p.keyAt, rowGap: p.rowGap }
      },
      scales: {
        x: {
          type: 'linear', min: xt[0], max: xt[xt.length - 1],
          afterBuildTicks: ax => { ax.ticks = xt.map(v => ({ value: v })); },
          afterFit: s => { s.height = PAD_BOTTOM; },
          grid: { display: false, drawTicks: false },
          border: { display: true, color: AXIS_COLOR, width: 2 },
          ticks: { callback: v => Number(v).toFixed(1), color: TEXT, padding: 9,
                   font: { family: FONT, size: 15 }, maxRotation: 0, autoSkip: false },
          title: { display: true, text: 'Sample Angle (degrees)', color: TEXT,
                   font: { family: FONT, size: 17 }, padding: { top: 4, bottom: 4 } }
        },
        y: {
          type: 'logarithmic',
          min: Math.pow(10, dec[0]), max: Math.pow(10, dec[dec.length - 1]),
          afterBuildTicks: ax => { ax.ticks = dec.map(e => ({ value: Math.pow(10, e), major: true })); },
          afterFit: s => { s.width = PAD_LEFT; },
          grid: { display: false, drawTicks: false },
          border: { display: true, color: AXIS_COLOR, width: 2 },
          ticks: { callback: (v, i) => powerLabel(dec[i]), color: TEXT, padding: 4,
                   font: { family: FONT, size: 16 }, autoSkip: false },
          title: { display: true, text: 'Normalised Intensity (arb. units)', color: TEXT,
                   font: { family: FONT, size: 16 }, padding: { top: 7, bottom: 0 } }
        }
      }
    },
    plugins: [inwardTicks, panelText]
  });
}

makePanel('cA', { plot: [70, 16, 516, 334], title: titleA, titleAt: [220, 11], keyAt: [266, 74], rowGap: 21,
                  xTicks: xTicksA, decades: decadesA, data: dataA, fit: fitA });
makePanel('cB', { plot: [629, 18, 1072, 333], title: titleB, titleAt: [246, 15], keyAt: [279, 70], rowGap: 20,
                  xTicks: xTicksB, decades: decadesB, data: dataB, fit: fitB });
makePanel('cC', { plot: [70, 432, 514, 749], title: titleC, titleAt: [240, 8], keyAt: [265, 71], rowGap: 21,
                  xTicks: xTicksC, decades: decadesC, data: dataC, fit: fitC });
makePanel('cE', { plot: [628, 432, 1072, 752], title: titleE, titleAt: [236, 7], keyAt: [256, 61], rowGap: 21,
                  xTicks: xTicksE, decades: decadesE, data: dataE, fit: fitE });
makePanel('cF', { plot: [72, 851, 514, 1169], title: titleF, titleAt: [231, 7], keyAt: [271, 64], rowGap: 21,
                  xTicks: xTicksF, decades: decadesF, data: dataF, fit: fitF });
makePanel('cG', { plot: [630, 851, 1072, 1170], title: titleG, titleAt: [231, 10], keyAt: [272, 59], rowGap: 21,
                  xTicks: xTicksG, decades: decadesG, data: dataG, fit: fitG });
</script>
</body>
</html>
